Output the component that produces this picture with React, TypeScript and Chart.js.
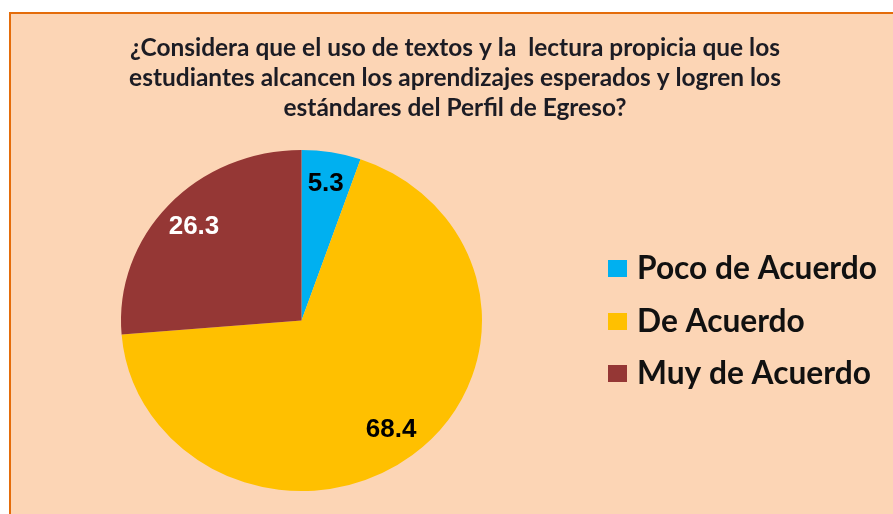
import React, { useEffect, useRef } from "react";
import { Chart, registerables } from "chart.js";

Chart.register(...registerables);

const categories = ["Poco de Acuerdo", "De Acuerdo", "Muy de Acuerdo"];
const values = [5.3, 68.4, 26.3];
const sliceColors = ["#00B0F0", "#FFC000", "#953735"];
const valueLabelColors = ["#000000", "#000000", "#FFFFFF"];
const titleLines = [
  "¿Considera que el uso de textos y la  lectura propicia que los",
  "estudiantes alcancen los aprendizajes esperados y logren los",
  "estándares del Perfil de Egreso?",
];

const W = 893;
const H = 514;
const Y_SCALE = 0.945;

function fitSize(ctx: CanvasRenderingContext2D, text: string, family: string, target: number) {
  ctx.font = `bold 20px ${family}`;
  const w = ctx.measureText(text).width;
  return (20 * target) / w;
}

const customPlugin = {
  id: "custom",
  beforeDraw(chart: any) {
    const ctx = chart.ctx as CanvasRenderingContext2D;
    ctx.save();
    ctx.fillStyle = "#FFFFFF";
    ctx.fillRect(0, 0, W, H);
    ctx.fillStyle = "#FCD5B5";
    ctx.fillRect(9, 12, W, H);
    ctx.strokeStyle = "#E46C0A";
    ctx.lineWidth = 2;
    ctx.beginPath();
    ctx.moveTo(W + 5, 13);
    ctx.lineTo(10, 13);
    ctx.lineTo(10, H + 5);
    ctx.stroke();
    ctx.restore();
  },
  beforeDatasetsDraw(chart: any) {
    const ctx = chart.ctx as CanvasRenderingContext2D;
    const arc = chart.getDatasetMeta(0).data[0];
    ctx.save();
    ctx.translate(arc.x, arc.y);
    ctx.scale(1, Y_SCALE);
    ctx.translate(-arc.x, -arc.y);
  },
  afterDatasetsDraw(chart: any) {
    const ctx = chart.ctx as CanvasRenderingContext2D;
    ctx.restore();
    const meta = chart.getDatasetMeta(0);
    ctx.save();
    ctx.font = "bold 26px 'Liberation Sans', Arial, sans-serif";
    ctx.textAlign = "center";
    ctx.textBaseline = "middle";
    meta.data.forEach((a: any, i: number) => {
      const mid = (a.startAngle + a.endAngle) / 2;
      const d = a.outerRadius * 0.81;
      const px = a.x + Math.cos(mid) * d;
      const py = a.y + Math.sin(mid) * d * Y_SCALE;
      ctx.fillStyle = valueLabelColors[i];
      ctx.fillText(String(chart.data.datasets[0].data[i]), px, py);
    });
    ctx.restore();
  },
  afterDraw(chart: any) {
    const ctx = chart.ctx as CanvasRenderingContext2D;
    ctx.save();
    const fam = "Lato, 'Open Sans', sans-serif";
    // title
    const ts = fitSize(ctx, titleLines[1], fam, 652);
    ctx.font = `bold ${ts}px ${fam}`;
    ctx.fillStyle = "#1C1C24";
    ctx.textAlign = "center";
    ctx.textBaseline = "middle";
    const tys = [48, 78, 108];
    titleLines.forEach((l, i) => ctx.fillText(l, 455, tys[i]));
    // legend
    const ls = fitSize(ctx, categories[0], fam, 240);
    ctx.font = `bold ${ls}px ${fam}`;
    ctx.textAlign = "left";
    const lys = [268, 321, 373];
    chart.data.labels.forEach((lab: string, i: number) => {
      ctx.fillStyle = sliceColors[i];
      ctx.fillRect(608, lys[i] - 8, 19, 17);
      ctx.fillStyle = "#111111";
      ctx.fillText(lab, 637, lys[i] + 1);
    });
    ctx.restore();
  },
};

export default function App() {
  const ref = useRef<HTMLCanvasElement>(null);
  useEffect(() => {
    if (!ref.current) return;
    const chart = new Chart(ref.current, {
      type: "pie",
      data: {
        labels: categories,
        datasets: [
          {
            data: values,
            backgroundColor: sliceColors,
            borderWidth: 0,
            hoverOffset: 0,
          },
        ],
      },
      options: {
        responsive: false,
        animation: false,
        events: [],
        layout: { padding: { left: 121, right: W - 482, top: 140, bottom: H - 501 } },
        plugins: {
          legend: { display: false },
          tooltip: { enabled: false },
          title: { display: false },
        },
      },
      plugins: [customPlugin],
    });
    return () => chart.destroy();
  }, []);
  return (
    <div style={{ position: "absolute", left: 0, top: 0, width: W, height: H }}>
      <canvas ref={ref} width={W} height={H} style={{ width: W, height: H, display: "block" }} />
    </div>
  );
}
